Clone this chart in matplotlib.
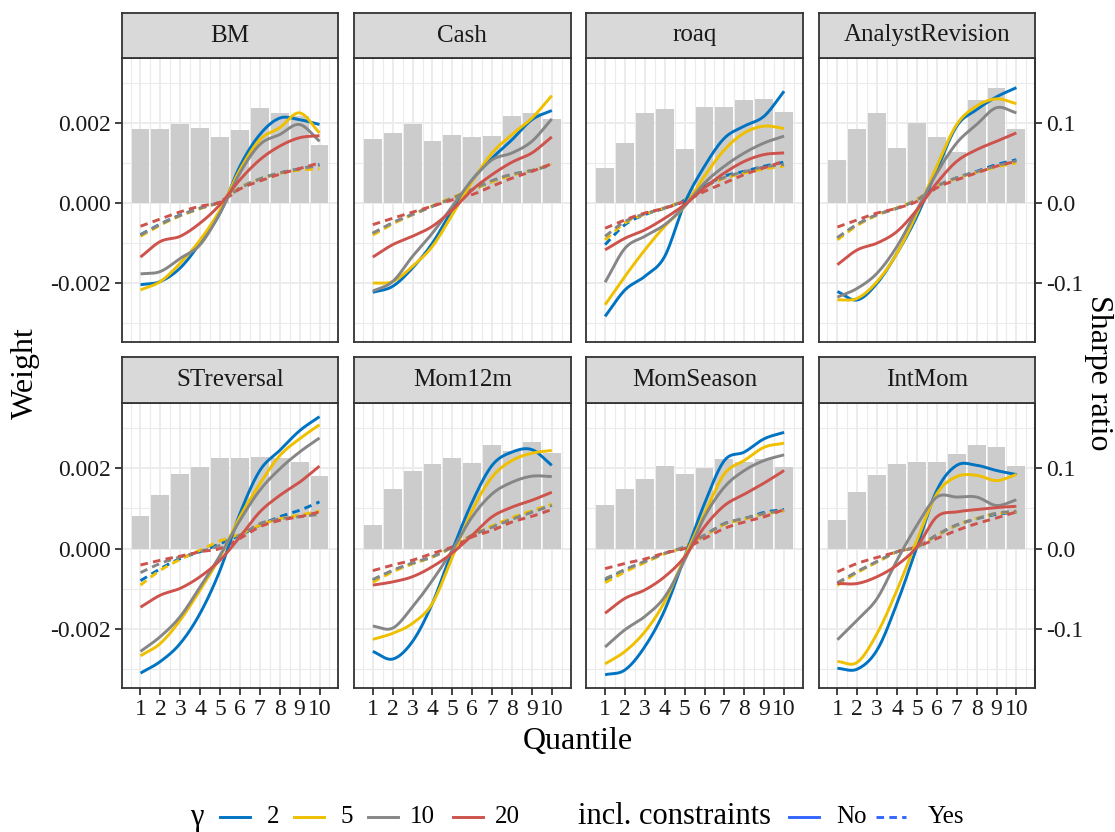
import numpy as np
import matplotlib
matplotlib.use("Agg")
import matplotlib.pyplot as plt
from matplotlib.lines import Line2D

plt.rcParams["font.family"] = ["Liberation Serif", "DejaVu Serif"]
plt.rcParams["axes.unicode_minus"] = False

quantiles = np.arange(1, 11)
panels = ["BM", "Cash", "roaq", "AnalystRevision",
          "STreversal", "Mom12m", "MomSeason", "IntMom"]
gammas = [2, 5, 10, 20]
gamma_colors = ["#0073C2", "#EFC000", "#868686", "#CD534C"]

# Sharpe ratio per quantile (grey bars, right axis)
sharpe = {
    "BM": [0.092, 0.092, 0.099, 0.094, 0.082, 0.091, 0.119, 0.112, 0.108, 0.073],
    "Cash": [0.080, 0.087, 0.099, 0.077, 0.085, 0.083, 0.084, 0.109, 0.112, 0.105],
    "roaq": [0.044, 0.075, 0.112, 0.117, 0.068, 0.120, 0.120, 0.128, 0.130, 0.114],
    "AnalystRevision": [0.054, 0.092, 0.112, 0.069, 0.100, 0.082, 0.064, 0.128, 0.143, 0.092],
    "STreversal": [0.041, 0.067, 0.093, 0.101, 0.113, 0.112, 0.114, 0.113, 0.108, 0.090],
    "Mom12m": [0.029, 0.074, 0.096, 0.105, 0.112, 0.106, 0.129, 0.121, 0.133, 0.119],
    "MomSeason": [0.054, 0.074, 0.086, 0.103, 0.093, 0.100, 0.111, 0.108, 0.111, 0.101],
    "IntMom": [0.035, 0.070, 0.091, 0.105, 0.107, 0.108, 0.117, 0.129, 0.126, 0.103],
}

# portfolio weights (x 1e-3), without constraints, per gamma
w_BM = {2: [-2.04, -1.96, -1.62, -1.00, -0.25, 0.92, 1.71, 2.12, 2.08, 1.96],
        5: [-2.17, -1.96, -1.50, -0.92, -0.17, 0.83, 1.58, 1.88, 2.25, 1.75],
        10: [-1.77, -1.71, -1.38, -1.04, -0.25, 0.75, 1.46, 1.71, 1.96, 1.54],
        20: [-1.35, -0.96, -0.83, -0.50, -0.04, 0.58, 1.08, 1.42, 1.63, 1.68]}
w_Cash = {2: [-2.23, -2.08, -1.62, -1.00, -0.17, 0.58, 1.12, 1.58, 2.08, 2.31],
          5: [-2.00, -1.96, -1.58, -1.08, -0.29, 0.54, 1.25, 1.71, 2.12, 2.68],
          10: [-2.20, -1.96, -1.33, -0.75, -0.08, 0.58, 1.08, 1.25, 1.54, 2.10],
          20: [-1.35, -1.04, -0.83, -0.58, -0.17, 0.33, 0.71, 1.02, 1.25, 1.65]}
w_roaq = {2: [-2.83, -2.17, -1.83, -1.33, 0.00, 0.92, 1.62, 1.92, 2.17, 2.79],
          5: [-2.54, -1.83, -1.17, -0.58, -0.08, 0.67, 1.33, 1.75, 1.92, 1.86],
          10: [-1.98, -1.13, -0.83, -0.54, -0.08, 0.50, 0.92, 1.25, 1.50, 1.67],
          20: [-1.17, -0.88, -0.67, -0.38, -0.04, 0.38, 0.75, 1.04, 1.21, 1.25]}
w_AnalystRevision = {2: [-2.21, -2.42, -2.00, -1.25, -0.33, 0.83, 1.92, 2.33, 2.65, 2.88],
                     5: [-2.42, -2.38, -1.96, -1.25, -0.25, 0.92, 1.96, 2.42, 2.60, 2.48],
                     10: [-2.35, -2.13, -1.75, -1.08, -0.17, 0.75, 1.50, 1.96, 2.38, 2.25],
                     20: [-1.54, -1.17, -1.00, -0.71, -0.17, 0.50, 1.04, 1.33, 1.54, 1.75]}
w_STreversal = {2: [-3.10, -2.81, -2.36, -1.61, -0.54, 0.87, 1.94, 2.44, 2.93, 3.28],
                5: [-2.67, -2.36, -1.78, -1.03, -0.21, 0.79, 1.61, 2.31, 2.73, 3.08],
                10: [-2.56, -2.19, -1.69, -0.95, -0.17, 0.70, 1.45, 1.98, 2.40, 2.75],
                20: [-1.46, -1.16, -0.99, -0.70, -0.29, 0.29, 0.91, 1.32, 1.65, 2.05]}
w_Mom12m = {2: [-2.56, -2.75, -2.31, -1.36, -0.04, 1.16, 2.07, 2.40, 2.46, 2.07],
            5: [-2.26, -2.11, -1.86, -1.36, -0.21, 0.95, 1.78, 2.19, 2.37, 2.44],
            10: [-1.93, -1.98, -1.45, -0.79, -0.04, 0.79, 1.36, 1.65, 1.80, 1.79],
            20: [-0.91, -0.83, -0.70, -0.45, -0.11, 0.33, 0.79, 1.03, 1.20, 1.40]}
w_MomSeason = {2: [-3.14, -3.02, -2.44, -1.53, -0.21, 1.12, 2.19, 2.40, 2.73, 2.89],
               5: [-2.87, -2.56, -2.07, -1.32, -0.21, 0.87, 1.86, 2.19, 2.52, 2.62],
               10: [-2.45, -2.02, -1.69, -1.20, -0.29, 0.79, 1.53, 1.94, 2.19, 2.33],
               20: [-1.61, -1.24, -1.03, -0.70, -0.21, 0.54, 1.07, 1.35, 1.63, 1.94]}
w_IntMom = {2: [-2.98, -3.00, -2.52, -1.36, 0.04, 1.45, 2.07, 2.07, 1.94, 1.84],
            5: [-2.81, -2.83, -2.11, -1.03, 0.21, 1.36, 1.79, 1.82, 1.69, 1.84],
            10: [-2.27, -1.78, -1.24, -0.29, 0.58, 1.28, 1.28, 1.28, 1.07, 1.21],
            20: [-0.87, -0.87, -0.70, -0.41, 0.04, 0.79, 0.91, 0.97, 1.02, 1.05]}

# portfolio weights (x 1e-3), with constraints, per gamma
c_BM = {2: [-0.79, -0.52, -0.30, -0.13, 0.03, 0.38, 0.60, 0.75, 0.85, 0.96],
        5: [-0.83, -0.55, -0.32, -0.14, 0.03, 0.38, 0.60, 0.74, 0.82, 0.85],
        10: [-0.80, -0.53, -0.31, -0.13, 0.03, 0.37, 0.60, 0.75, 0.85, 0.94],
        20: [-0.58, -0.40, -0.22, -0.08, 0.02, 0.35, 0.55, 0.72, 0.86, 1.00]}
c_Cash = {2: [-0.77, -0.50, -0.29, -0.08, 0.13, 0.33, 0.54, 0.71, 0.81, 0.96],
          5: [-0.80, -0.52, -0.29, -0.07, 0.14, 0.33, 0.53, 0.70, 0.81, 0.97],
          10: [-0.75, -0.49, -0.28, -0.08, 0.12, 0.34, 0.56, 0.72, 0.81, 0.95],
          20: [-0.54, -0.38, -0.23, -0.08, 0.08, 0.21, 0.42, 0.62, 0.79, 0.98]}
c_roaq = {2: [-1.04, -0.54, -0.29, -0.13, 0.07, 0.42, 0.67, 0.79, 0.92, 1.02],
          5: [-0.92, -0.50, -0.28, -0.12, 0.07, 0.40, 0.62, 0.75, 0.85, 0.92],
          10: [-0.83, -0.46, -0.27, -0.12, 0.06, 0.40, 0.64, 0.78, 0.90, 0.96],
          20: [-0.63, -0.42, -0.25, -0.13, 0.04, 0.29, 0.50, 0.71, 0.88, 1.04]}
c_AnalystRevision = {2: [-0.88, -0.54, -0.29, -0.13, 0.08, 0.42, 0.63, 0.79, 0.96, 1.08],
                     5: [-0.92, -0.56, -0.30, -0.12, 0.09, 0.42, 0.62, 0.77, 0.90, 1.00],
                     10: [-0.86, -0.53, -0.29, -0.13, 0.08, 0.42, 0.63, 0.78, 0.93, 1.05],
                     20: [-0.60, -0.42, -0.25, -0.13, 0.04, 0.38, 0.58, 0.75, 0.92, 1.04]}
c_STreversal = {2: [-0.80, -0.50, -0.25, -0.08, 0.12, 0.33, 0.58, 0.79, 0.95, 1.16],
                5: [-0.91, -0.54, -0.27, -0.04, 0.19, 0.36, 0.58, 0.74, 0.83, 0.93],
                10: [-0.60, -0.37, -0.21, -0.08, 0.08, 0.33, 0.62, 0.74, 0.79, 0.85],
                20: [-0.41, -0.29, -0.19, -0.08, 0.00, 0.25, 0.54, 0.70, 0.79, 0.91]}
c_Mom12m = {2: [-0.79, -0.55, -0.37, -0.21, 0.04, 0.33, 0.54, 0.74, 0.91, 1.08],
            5: [-0.84, -0.58, -0.38, -0.21, 0.04, 0.34, 0.56, 0.77, 0.94, 1.10],
            10: [-0.77, -0.54, -0.36, -0.20, 0.04, 0.33, 0.53, 0.73, 0.90, 1.07],
            20: [-0.55, -0.41, -0.29, -0.12, 0.04, 0.29, 0.45, 0.66, 0.80, 0.97]}
c_MomSeason = {2: [-0.79, -0.54, -0.33, -0.12, 0.04, 0.33, 0.62, 0.74, 0.90, 0.97],
               5: [-0.85, -0.58, -0.35, -0.13, 0.04, 0.32, 0.60, 0.73, 0.86, 0.93],
               10: [-0.75, -0.52, -0.32, -0.12, 0.04, 0.33, 0.62, 0.75, 0.87, 0.95],
               20: [-0.50, -0.37, -0.26, -0.11, 0.00, 0.25, 0.50, 0.66, 0.79, 0.97]}
c_IntMom = {2: [-0.87, -0.58, -0.33, -0.08, 0.04, 0.33, 0.58, 0.74, 0.85, 0.90],
            5: [-0.92, -0.60, -0.34, -0.08, 0.04, 0.33, 0.58, 0.75, 0.87, 0.91],
            10: [-0.85, -0.57, -0.32, -0.08, 0.04, 0.34, 0.59, 0.74, 0.88, 0.93],
            20: [-0.58, -0.37, -0.22, -0.08, 0.04, 0.25, 0.45, 0.62, 0.76, 0.91]}

weights_no = {"BM": w_BM, "Cash": w_Cash, "roaq": w_roaq,
              "AnalystRevision": w_AnalystRevision, "STreversal": w_STreversal,
              "Mom12m": w_Mom12m, "MomSeason": w_MomSeason, "IntMom": w_IntMom}
weights_yes = {"BM": c_BM, "Cash": c_Cash, "roaq": c_roaq,
               "AnalystRevision": c_AnalystRevision, "STreversal": c_STreversal,
               "Mom12m": c_Mom12m, "MomSeason": c_MomSeason, "IntMom": c_IntMom}

SCALE = 1e-3      # weights are stored in units of 1e-3
SR_FACTOR = 50    # Sharpe ratio = 50 * weight on the secondary axis


def smooth(x, y, n=200):
    """cubic Hermite curve through the points (smoothed look like geom_smooth)"""
    x = np.asarray(x, float)
    y = np.asarray(y, float)
    m = np.gradient(y, x)
    xs = np.linspace(x[0], x[-1], n)
    i = np.clip(np.searchsorted(x, xs, side="right") - 1, 0, len(x) - 2)
    h = x[i + 1] - x[i]
    t = (xs - x[i]) / h
    h00 = 2 * t**3 - 3 * t**2 + 1
    h10 = t**3 - 2 * t**2 + t
    h01 = -2 * t**3 + 3 * t**2
    h11 = t**3 - t**2
    ys = h00 * y[i] + h10 * h * m[i] + h01 * y[i + 1] + h11 * h * m[i + 1]
    return xs, ys


W, H = 1115, 832
fig = plt.figure(figsize=(W / 100, H / 100), dpi=100)

col_left = [121.7 + k * 232.3 for k in range(4)]
col_w = 216.6
rows = [(58, 342, 13), (403, 688, 357)]   # panel top, panel bottom, strip top

grid_col = "#EBEBEB"
edge_col = "#333333"
tick_fs = 17
lw = 2.1
dash = (2.6, 1.8)

for idx, name in enumerate(panels):
    r, c = divmod(idx, 4)
    top, bot, stop = rows[r]
    ax = fig.add_axes([col_left[c] / W, 1 - bot / H, col_w / W, (bot - top) / H])
    sax = fig.add_axes([col_left[c] / W, 1 - top / H, col_w / W, (top - stop) / H])

    # grid
    for v in np.arange(0.5, 11, 1.0):
        ax.axvline(v, color=grid_col, lw=0.8, zorder=0)
    for v in quantiles:
        ax.axvline(v, color=grid_col, lw=1.3, zorder=0)
    for v in [-0.003, -0.001, 0.001, 0.003]:
        ax.axhline(v, color=grid_col, lw=0.8, zorder=0)
    for v in [-0.002, 0.0, 0.002]:
        ax.axhline(v, color=grid_col, lw=1.3, zorder=0)

    # bars: Sharpe ratio mapped onto the weight scale
    ax.bar(quantiles, np.array(sharpe[name]) / SR_FACTOR, width=0.9,
           color="#CCCCCC", zorder=1)

    for g, col in zip(gammas, gamma_colors):
        xs, ys = smooth(quantiles, weights_no[name][g])
        ax.plot(xs, ys * SCALE, color=col, lw=lw, zorder=3,
                solid_capstyle="butt")
    for g, col in zip(gammas, gamma_colors):
        xs, ys = smooth(quantiles, weights_yes[name][g])
        ax.plot(xs, ys * SCALE, color=col, lw=lw, zorder=2,
                dashes=dash, dash_capstyle="butt")

    ax.set_xlim(0.055, 10.945)
    ax.set_ylim(-0.00347, 0.00362)
    ax.set_facecolor("white")
    for sp in ax.spines.values():
        sp.set_color(edge_col)
        sp.set_linewidth(1.3)

    ax.set_xticks(quantiles)
    ax.set_yticks([-0.002, 0.0, 0.002])
    ax.tick_params(axis="both", colors=edge_col, length=5, width=1.3,
                   labelsize=tick_fs, labelcolor="#1A1A1A", pad=3)
    if r == 1:
        ax.set_xticklabels([str(q) for q in quantiles])
    else:
        ax.tick_params(axis="x", length=0, labelbottom=False)
    if c == 0:
        ax.set_yticklabels(["-0.002", "0.000", "0.002"])
    else:
        ax.tick_params(axis="y", length=0, labelleft=False)
    if c == 3:
        sec = ax.secondary_yaxis("right", functions=(lambda w: w * SR_FACTOR,
                                                     lambda s: s / SR_FACTOR))
        sec.set_yticks([-0.1, 0.0, 0.1])
        sec.set_yticklabels(["-0.1", "0.0", "0.1"])
        sec.tick_params(colors=edge_col, length=5, width=1.3,
                        labelsize=tick_fs, labelcolor="#1A1A1A", pad=3)
        sec.spines["right"].set_color(edge_col)
        sec.spines["right"].set_linewidth(1.3)

    # facet strip
    sax.set_facecolor("#D9D9D9")
    sax.set_xticks([])
    sax.set_yticks([])
    for sp in sax.spines.values():
        sp.set_color(edge_col)
        sp.set_linewidth(1.3)
    sax.text(0.5, 0.5, name, ha="center", va="center", fontsize=18,
             color="#1A1A1A", transform=sax.transAxes)

# axis titles
fig.text(578 / W, 1 - 742 / H, "Quantile", ha="center", va="center", fontsize=23)
fig.text(25 / W, 1 - 373 / H, "Weight", ha="center", va="center",
         rotation=90, fontsize=23)
fig.text(1099 / W, 1 - 373 / H, "Sharpe ratio", ha="center", va="center",
         rotation=270, fontsize=23)

# legend (drawn by hand, bottom)
ly = 1 - 817 / H
fig.text(197 / W, ly, "γ", ha="center", va="center", fontsize=22)
key_x = [220, 294, 368, 453]
lab_x = [267, 340, 410, 495]
for g, col, kx, lx in zip(gammas, gamma_colors, key_x, lab_x):
    fig.add_artist(Line2D([kx / W, (kx + 30) / W], [ly, ly], color=col, lw=lw))
    fig.text(lx / W, ly, str(g), ha="left", va="center", fontsize=18)
fig.text(578 / W, ly, "incl. constraints", ha="left", va="center", fontsize=22)
fig.add_artist(Line2D([789 / W, 819 / W], [ly, ly], color="#3366FF", lw=lw))
fig.text(836 / W, ly, "No", ha="left", va="center", fontsize=18)
fig.add_artist(Line2D([876 / W, 906 / W], [ly, ly], color="#3366FF", lw=lw,
                      dashes=dash))
fig.text(928 / W, ly, "Yes", ha="left", va="center", fontsize=18)

fig.savefig("out.png", dpi=100)
